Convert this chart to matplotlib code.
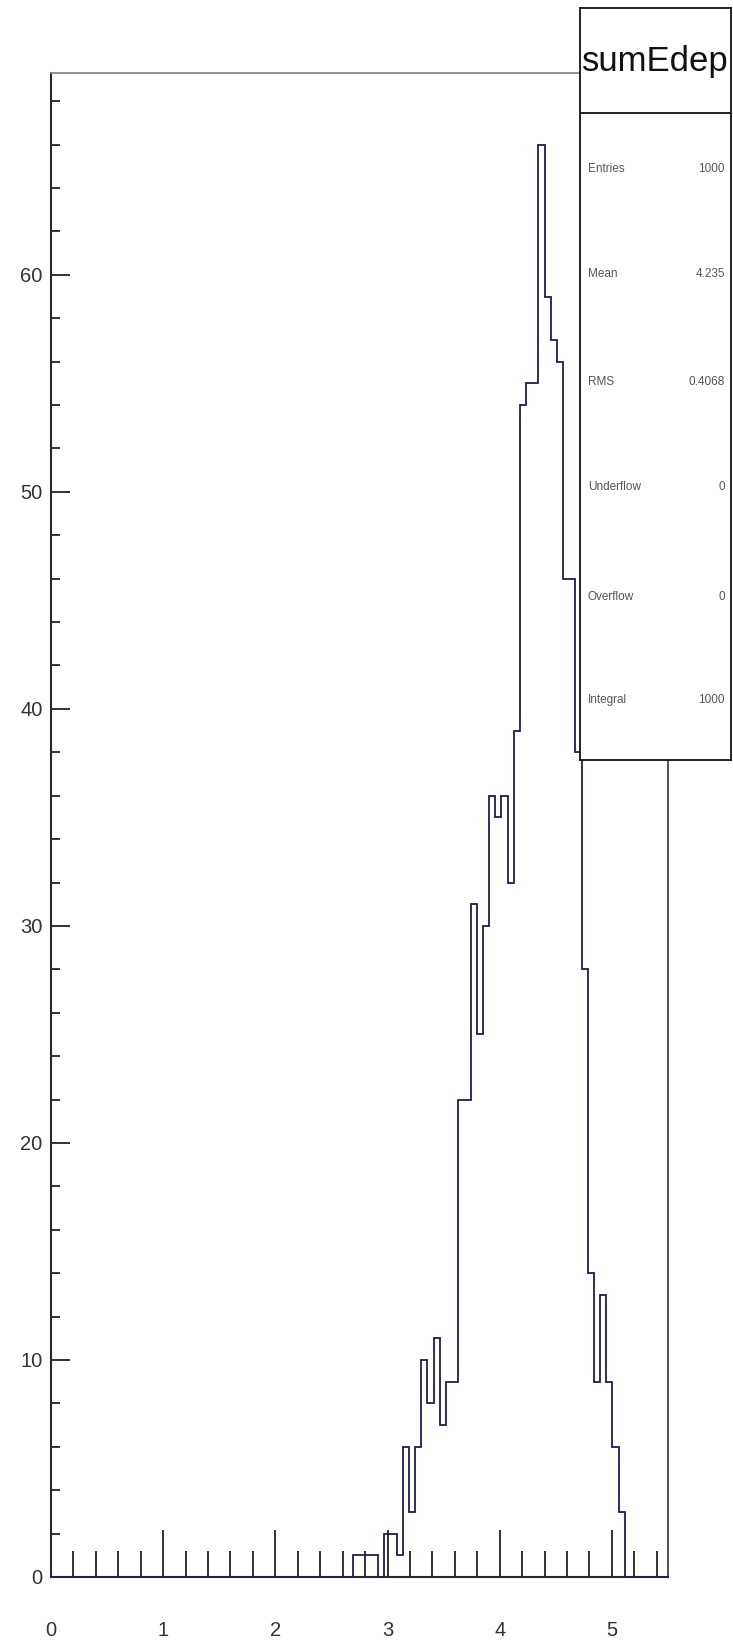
import numpy as np
import matplotlib
matplotlib.use("Agg")
import matplotlib.pyplot as plt
from matplotlib.ticker import MultipleLocator

plt.rcParams['font.family'] = ['Liberation Sans', 'DejaVu Sans']

# -----------------------------
# histogram data (100 bins, 0 .. 5.5)
# -----------------------------
n_bins = 100
x_min, x_max = 0.0, 5.5
first_bin = 49
counts = [1, 1, 1, 1, 0, 2, 2, 1,
          6, 3, 6, 10, 8, 11, 7, 9, 9,
          22, 22, 31, 25, 30, 36, 35, 36, 32, 39,
          54, 55, 55, 66, 59, 57, 56, 46, 46, 38,
          28, 14, 9, 13, 9, 6, 3]

stat_names = ["Entries", "Mean", "RMS", "Underflow", "Overflow", "Integral"]
stat_values = ["1000", "4.235", "0.4068", "0", "0", "1000"]
hist_name = "sumEdep"

values = np.zeros(n_bins)
values[first_bin:first_bin + len(counts)] = counts
edges = np.linspace(x_min, x_max, n_bins + 1)

W, H = 733, 1648
fig = plt.figure(figsize=(W / 100, H / 100), dpi=100)
fig.patch.set_facecolor('white')

left, right, top, bottom = 51, 668, 73, 1577
ax = fig.add_axes([left / W, 1 - bottom / H, (right - left) / W, (bottom - top) / H])
ax.set_xlim(x_min, x_max)
ax.set_ylim(0, 1.05 * max(counts))

ax.stairs(values, edges, color='#1c1c5c', linewidth=1.3, zorder=3)

ax.xaxis.set_major_locator(MultipleLocator(1))
ax.xaxis.set_minor_locator(MultipleLocator(0.2))
ax.yaxis.set_major_locator(MultipleLocator(10))
ax.yaxis.set_minor_locator(MultipleLocator(2))

ax.tick_params(axis='x', which='major', direction='in', length=34, width=1.3,
               pad=32, labelsize=14.5, labelcolor='#333333', color='#222222')
ax.tick_params(axis='x', which='minor', direction='in', length=18.5, width=1.3,
               color='#222222')
ax.tick_params(axis='y', which='major', direction='in', length=13.5, width=1.3,
               pad=6, labelsize=14.5, labelcolor='#333333', color='#222222')
ax.tick_params(axis='y', which='minor', direction='in', length=6.5, width=1.3,
               color='#222222')

for side in ['left', 'bottom']:
    ax.spines[side].set_color('#2a2a2a')
    ax.spines[side].set_linewidth(1.5)
ax.spines['top'].set_color('#8a8a8a')
ax.spines['top'].set_linewidth(1.3)
ax.spines['right'].set_color('#444444')
ax.spines['right'].set_linewidth(1.3)

# -----------------------------
# statistics box
# -----------------------------
bx0, bx1, by0, by1 = 580, 731, 8, 760
box = fig.add_axes([bx0 / W, 1 - by1 / H, (bx1 - bx0) / W, (by1 - by0) / H])
box.set_xlim(bx0, bx1)
box.set_ylim(by1, by0)
box.set_facecolor('white')
box.set_xticks([])
box.set_yticks([])
for s in box.spines.values():
    s.set_color('#111111')
    s.set_linewidth(1.3)
box.set_zorder(5)

box.text((bx0 + bx1) / 2, 62, hist_name, ha='center', va='center',
         fontsize=25, color='#111111')
box.plot([bx0, bx1], [113, 113], color='#111111', linewidth=1.3)

row_y = [169, 274, 382, 487, 597, 700]
for name, val, y in zip(stat_names, stat_values, row_y):
    box.text(bx0 + 8, y, name, ha='left', va='center', fontsize=8.5, color='#555555')
    box.text(bx1 - 6, y, val, ha='right', va='center', fontsize=8.5, color='#555555')

fig.savefig("out.png", dpi=100, facecolor='white')
